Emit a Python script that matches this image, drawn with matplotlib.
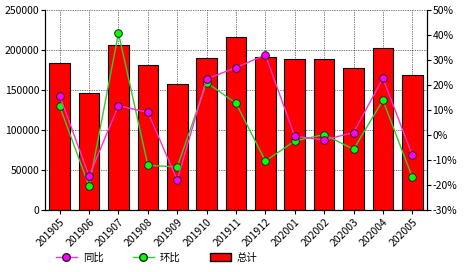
import matplotlib
matplotlib.use("Agg")
import matplotlib.pyplot as plt
from matplotlib.lines import Line2D
from matplotlib.patches import Patch
from matplotlib.ticker import FuncFormatter

plt.rcParams['font.family'] = ['Noto Sans CJK SC', 'DejaVu Sans']

months = ['201905', '201906', '201907', '201908', '201909', '201910', '201911',
          '201912', '202001', '202002', '202003', '202004', '202005']
total = [183500, 146000, 206000, 181000, 157500, 190500, 216000,
         191500, 189000, 189000, 177500, 202500, 169000]
yoy = [15.7, -16.4, 11.7, 9.1, -18.0, 22.4, 27.0, 32.0, -0.5, -2.0, 1.0, 22.7, -8.1]
mom = [11.5, -20.5, 40.8, -12.1, -12.8, 21.0, 12.7, -10.4, -2.4, 0.2, -5.7, 13.9, -16.9]

fig = plt.figure(figsize=(4.66, 2.72), dpi=100)
ax = fig.add_axes([45/466, 62/272, 382/466, 200/272])
x = list(range(len(months)))
ax.bar(x, total, width=0.7, color='#ff0000', edgecolor='black', linewidth=0.8, zorder=2)
ax.set_xlim(-0.5, len(months) - 0.5)
ax.set_ylim(0, 250000)
ax.set_yticks(range(0, 250001, 50000))
ax.set_xticks(x)
ax.set_xticklabels(months, rotation=45, ha='right', rotation_mode='anchor', fontsize=7.5)
ax.tick_params(axis='y', labelsize=7.5, length=3, pad=1)
ax.tick_params(axis='x', length=3, pad=2)
ax.grid(True, linestyle=(0, (1, 1.5)), color='black', linewidth=0.5, zorder=0)
ax.set_axisbelow(True)
ax.spines['top'].set_visible(False)

ax2 = ax.twinx()
ax2.set_ylim(-30, 50)
ax2.set_yticks(range(-30, 51, 10))
ax2.yaxis.set_major_formatter(FuncFormatter(lambda v, p: f"{int(v)}%"))
ax2.tick_params(axis='y', labelsize=7.5, length=3, pad=1)
ax2.spines['top'].set_visible(False)
ax2.plot(x, yoy, color='#ff33cc', linewidth=1.0, marker='o', markersize=5.5,
         markerfacecolor='#ff00ff', markeredgecolor='#222222', markeredgewidth=0.7, zorder=4)
ax2.plot(x, mom, color='#33cc33', linewidth=1.0, marker='o', markersize=5.5,
         markerfacecolor='#00ff00', markeredgecolor='#222222', markeredgewidth=0.7, zorder=3)

handles = [
    Line2D([0], [0], color='#ff33cc', marker='o', markersize=5.5, markerfacecolor='#ff00ff',
           markeredgecolor='#222222', linewidth=1.0),
    Line2D([0], [0], color='#33cc33', marker='o', markersize=5.5, markerfacecolor='#00ff00',
           markeredgecolor='#222222', linewidth=1.0),
    Patch(facecolor='#ff0000', edgecolor='black'),
]
fig.legend(handles, ['同比', '环比', '总计'], loc='lower left', bbox_to_anchor=(0.1, 0.0),
           ncol=3, frameon=False, fontsize=7.5, handlelength=2.0, columnspacing=2.8,
           handletextpad=0.6)

fig.savefig('out.png', dpi=100)
